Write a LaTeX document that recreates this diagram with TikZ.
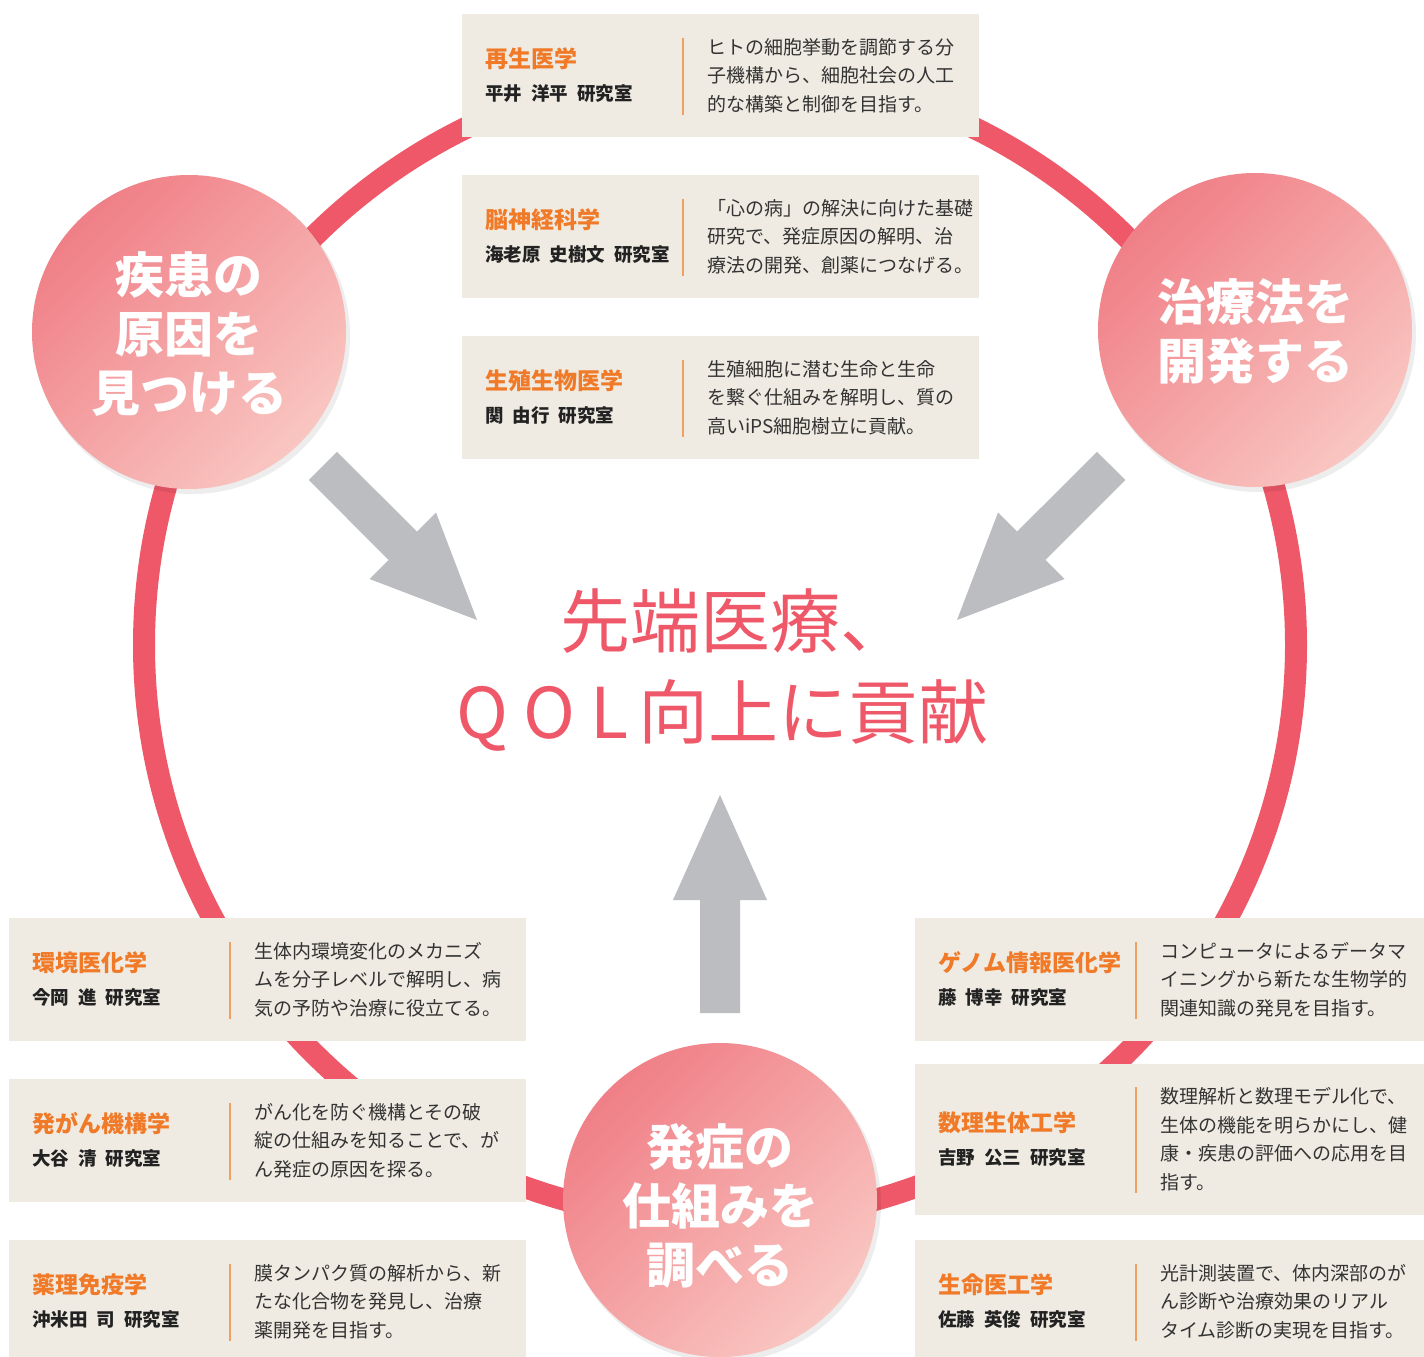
\documentclass[tikz,border=0pt]{standalone}
\usepackage{fontspec}
\setmainfont{Noto Sans CJK JP}
\usetikzlibrary{calc}
\definecolor{ringred}{HTML}{EF5868}
\definecolor{titleorange}{HTML}{F07A28}
\definecolor{boxbg}{HTML}{EFEBE2}
\definecolor{arrowgrey}{HTML}{BCBDC0}
\definecolor{pinkdark}{HTML}{F07F87}
\definecolor{pinklight}{HTML}{F9C6C1}
\definecolor{descc}{HTML}{333333}
\definecolor{namec}{HTML}{222222}
\definecolor{divc}{HTML}{F0A060}
\newcommand\nsp{\hspace{9pt}}
\tikzset{
  boxst/.style={rectangle, fill=boxbg, draw=none, anchor=north west, minimum width=517pt, inner sep=0pt, outer sep=0pt},
  ttlst/.style={anchor=west, inner sep=0pt, text=titleorange, font=\bfseries\fontsize{23}{23}\selectfont, text height=19.55pt, text depth=2.3pt},
  nmst/.style={anchor=west, inner sep=0pt, text=namec, font=\bfseries\fontsize{18.5}{18.5}\selectfont, text height=15.7pt, text depth=1.85pt},
  dscst/.style={anchor=west, inner sep=0pt, text=descc, font=\fontsize{19}{19}\selectfont, text height=16.15pt, text depth=1.9pt},
  divst/.style={draw=divc, line width=1.5pt},
  pinkc/.style={circle, minimum size=314pt, inner sep=0pt, draw=none, top color=pinkdark, bottom color=pinklight, shading angle=45},
  ctext/.style={align=center, text=white, inner sep=0pt, font=\bfseries\fontsize{49}{59}\selectfont},
  mtext/.style={anchor=base west, inner sep=0pt, text=ringred, font=\fontsize{70}{70}\selectfont},
  arrowst/.style={fill=arrowgrey, draw=none},
  shadowst/.style={fill=black, opacity=0.07}
}
\newcommand\labbox[8]{%
  \node[boxst, minimum height=#4pt] (#1) at (#2,#3) {};
  \node[ttlst] (#1t) at ($(#1.west)+(23,-16.5)$) {#6};
  \node[nmst] (#1n) at ($(#1.west)+(23,18.5)$) {#7};
  \coordinate (#1a) at ($(#1.west)+(221,{-((#5-1)*14.25+9.5)})$);
  \coordinate (#1b) at ($(#1.west)+(221,{(#5-1)*14.25+10.5})$);
  \draw[divst] (#1a) -- (#1b);
  \foreach \t [count=\i] in {#8} {\node[dscst] at ($(#1.west)+(245,{(\i-1-(#5-1)/2)*28.5})$) {\t};}
}
\begin{document}
\begin{tikzpicture}[x=1pt,y=-1pt]
\useasboundingbox (0,0) rectangle (1424,1357);
\fill[white] (0,0) rectangle (1424,1357);
% ring
\draw[ringred, line width=22pt] (720,645) circle [radius=576pt];
% boxes top
\labbox{b1}{462}{14}{123}{3}{再生医学}{平井\nsp 洋平\nsp 研究室}{ヒトの細胞挙動を調節する分,子機構から、細胞社会の人工,的な構築と制御を目指す。}
\labbox{b2}{462}{175}{123}{3}{脳神経科学}{海老原\nsp 史樹文\nsp 研究室}{「心の病」の解決に向けた基礎,研究で、発症原因の解明、治,療法の開発、創薬につなげる。}
\labbox{b3}{462}{336}{123}{3}{生殖生物医学}{関\nsp 由行\nsp 研究室}{生殖細胞に潜む生命と生命,を繋ぐ仕組みを解明し、質の,高いiPS細胞樹立に貢献。}
% boxes bottom left
\labbox{l1}{9}{918}{123}{3}{環境医化学}{今岡\nsp 進\nsp 研究室}{生体内環境変化のメカニズ,ムを分子レベルで解明し、病,気の予防や治療に役立てる。}
\labbox{l2}{9}{1079}{123}{3}{発がん機構学}{大谷\nsp 清\nsp 研究室}{がん化を防ぐ機構とその破,綻の仕組みを知ることで、が,ん発症の原因を探る。}
\labbox{l3}{9}{1240}{123}{3}{薬理免疫学}{沖米田\nsp 司\nsp 研究室}{膜タンパク質の解析から、新,たな化合物を発見し、治療,薬開発を目指す。}
% boxes bottom right
\labbox{r1}{915}{918}{123}{3}{ゲノム情報医化学}{藤\nsp 博幸\nsp 研究室}{コンピュータによるデータマ,イニングから新たな生物学的,関連知識の発見を目指す。}
\labbox{r2}{915}{1064}{151}{4}{数理生体工学}{吉野\nsp 公三\nsp 研究室}{数理解析と数理モデル化で、,生体の機能を明らかにし、健,康・疾患の評価への応用を目,指す。}
\labbox{r3}{915}{1240}{123}{3}{生命医工学}{佐藤\nsp 英俊\nsp 研究室}{光計測装置で、体内深部のが,ん診断や治療効果のリアル,タイム診断の実現を目指す。}
% circles
\fill[shadowst] (192,336) circle [radius=158pt];
\fill[shadowst] (1258,334) circle [radius=158pt];
\fill[shadowst] (723,1204) circle [radius=158pt];
\node[pinkc] (c1) at (189,332) {};
\node[pinkc] (c2) at (1255,330) {};
\node[pinkc] (c3) at (720,1200) {};
\node[ctext] (c1t) at (189,334) {疾患の\\原因を\\見つける};
\node[ctext] (c2t) at (1255,331) {治療法を\\開発する};
\node[ctext] (c3t) at (720,1206) {発症の\\仕組みを\\調べる};
% arrows
\fill[arrowst] (337.0,451.8) -- (416.9,531.6) -- (436.0,512.5) -- (477,620) -- (369.5,579.0) -- (388.6,559.9) -- (308.8,480.0) -- cycle;
\fill[arrowst] (1097.0,451.8) -- (1017.1,531.6) -- (998.0,512.5) -- (957,620) -- (1064.5,579.0) -- (1045.4,559.9) -- (1125.3,480.0) -- cycle;
\fill[arrowst] (700,1013) -- (740,1013) -- (740,900) -- (767,900) -- (720,795) -- (673,900) -- (700,900) -- cycle;
% main text
\node[mtext] (m1) at (560,647) {先端医療、};
\node[mtext] (m2) at (456,738) {Q\kern15pt O\kern15pt L\kern10pt 向上に貢献};
\end{tikzpicture}
\end{document}
